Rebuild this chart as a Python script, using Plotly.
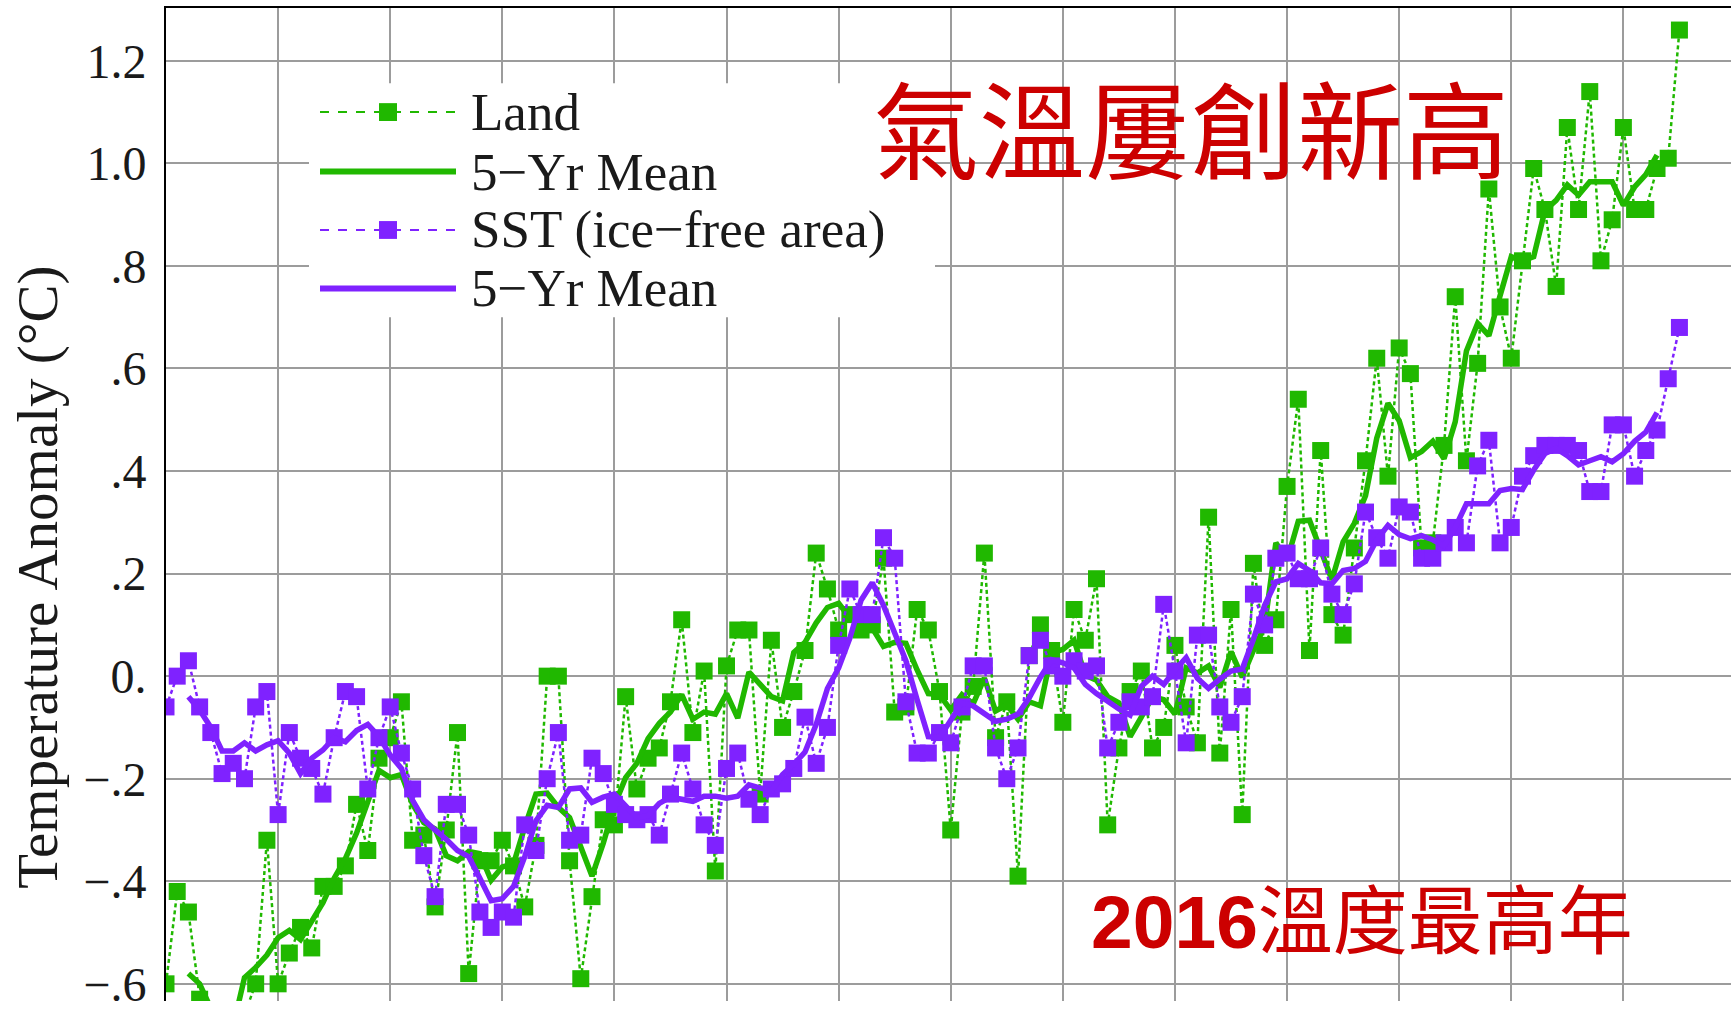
import plotly.graph_objects as go

# ---------------- data ----------------
years = list(range(1880, 2016))

land = [
    -0.60, -0.42, -0.46, -0.63, -0.79, -0.70, -0.66, -0.66, -0.60, -0.32,
    -0.60, -0.54, -0.49, -0.53, -0.41, -0.41, -0.37, -0.25, -0.34, -0.16,
    -0.12, -0.05, -0.32, -0.31, -0.45, -0.30, -0.11, -0.58, -0.36, -0.36,
    -0.32, -0.37, -0.45, -0.33, 0.00, 0.00, -0.36, -0.59, -0.43, -0.28,
    -0.29, -0.04, -0.22, -0.16, -0.14, -0.05, 0.11, -0.11, 0.01, -0.38,
    0.02, 0.09, 0.09, -0.23, 0.07, -0.10, -0.03, 0.05, 0.24, 0.17,
    0.09, 0.12, 0.09, 0.10, 0.23, -0.07, -0.06, 0.13, 0.09, -0.03,
    -0.30, -0.07, -0.02, 0.24, -0.12, -0.05, -0.39, 0.04, 0.10, 0.05,
    -0.09, 0.13, 0.07, 0.19, -0.29, -0.14, -0.03, 0.01, -0.14, -0.10,
    0.06, -0.06, -0.13, 0.31, -0.15, 0.13, -0.27, 0.22, 0.06, 0.11,
    0.37, 0.54, 0.05, 0.44, 0.12, 0.08, 0.25, 0.42, 0.62, 0.39,
    0.64, 0.59, 0.25, 0.26, 0.45, 0.74, 0.42, 0.61, 0.95, 0.72,
    0.62, 0.81, 0.99, 0.91, 0.76, 1.07, 0.91, 1.14, 0.81, 0.89,
    1.07, 0.91, 0.91, 0.99, 1.01, 1.26,
]

sst = [
    -0.06, 0.00, 0.03, -0.06, -0.11, -0.19, -0.17, -0.20, -0.06, -0.03,
    -0.27, -0.11, -0.16, -0.18, -0.23, -0.12, -0.03, -0.04, -0.22, -0.12,
    -0.06, -0.15, -0.22, -0.35, -0.43, -0.25, -0.25, -0.31, -0.46, -0.49,
    -0.46, -0.47, -0.29, -0.34, -0.20, -0.11, -0.32, -0.31, -0.16, -0.19,
    -0.25, -0.27, -0.28, -0.27, -0.31, -0.23, -0.15, -0.22, -0.29, -0.33,
    -0.18, -0.15, -0.24, -0.27, -0.22, -0.21, -0.18, -0.08, -0.17, -0.10,
    0.06, 0.17, 0.12, 0.12, 0.27, 0.23, -0.05, -0.15, -0.15, -0.11,
    -0.13, -0.06, 0.02, 0.02, -0.14, -0.20, -0.14, 0.04, 0.07, 0.02,
    0.00, 0.03, 0.01, 0.02, -0.14, -0.09, -0.05, -0.06, -0.04, 0.14,
    0.01, -0.13, 0.08, 0.08, -0.06, -0.09, -0.04, 0.16, 0.10, 0.23,
    0.24, 0.19, 0.19, 0.25, 0.16, 0.12, 0.18, 0.32, 0.27, 0.23,
    0.33, 0.32, 0.23, 0.23, 0.26, 0.29, 0.26, 0.41, 0.46, 0.26,
    0.29, 0.39, 0.43, 0.45, 0.45, 0.45, 0.44, 0.36, 0.36, 0.49,
    0.49, 0.39, 0.44, 0.48, 0.58, 0.68,
]

mean_years = list(range(1882, 2014))

land_5yr = [
    -0.580, -0.600, -0.648, -0.688, -0.682, -0.588, -0.568, -0.544,
    -0.510, -0.496, -0.514, -0.476, -0.442, -0.394, -0.356, -0.306, -0.248, -0.184,
    -0.198, -0.192, -0.250, -0.286, -0.298, -0.350, -0.360, -0.342, -0.346, -0.398,
    -0.372, -0.366, -0.294, -0.230, -0.228, -0.256, -0.276, -0.332, -0.390, -0.326,
    -0.252, -0.198, -0.170, -0.122, -0.092, -0.070, -0.036, -0.084, -0.070, -0.074,
    -0.034, -0.082, 0.008, -0.016, -0.040, -0.048, 0.046, 0.066, 0.104, 0.134,
    0.142, 0.114, 0.126, 0.094, 0.058, 0.066, 0.064, 0.012, -0.034, -0.036,
    -0.066, -0.036, -0.054, -0.004, -0.068, -0.056, -0.084, -0.050, -0.058, 0.046,
    0.052, 0.070, 0.002, -0.008, -0.040, -0.052, -0.118, -0.080, -0.040, -0.046,
    -0.074, 0.016, 0.006, 0.020, -0.022, 0.048, -0.002, 0.050, 0.098, 0.260,
    0.226, 0.302, 0.304, 0.246, 0.188, 0.262, 0.298, 0.352, 0.464, 0.532,
    0.498, 0.426, 0.438, 0.458, 0.424, 0.496, 0.634, 0.688, 0.664, 0.742,
    0.818, 0.810, 0.818, 0.908, 0.928, 0.958, 0.938, 0.964, 0.964, 0.964,
    0.918, 0.954, 0.978, 1.016,
]

sst_5yr = [
    -0.040, -0.066, -0.100, -0.146, -0.146, -0.130, -0.146, -0.134,
    -0.126, -0.150, -0.190, -0.160, -0.144, -0.120, -0.128, -0.106, -0.094, -0.118,
    -0.154, -0.180, -0.242, -0.280, -0.300, -0.318, -0.340, -0.352, -0.394, -0.438,
    -0.434, -0.410, -0.352, -0.282, -0.252, -0.256, -0.220, -0.218, -0.246, -0.236,
    -0.230, -0.252, -0.276, -0.272, -0.248, -0.236, -0.240, -0.244, -0.234, -0.234,
    -0.238, -0.234, -0.212, -0.218, -0.224, -0.192, -0.172, -0.148, -0.094, -0.024,
    0.016, 0.074, 0.148, 0.182, 0.138, 0.084, 0.030, -0.046, -0.118, -0.120,
    -0.086, -0.052, -0.058, -0.072, -0.088, -0.084, -0.074, -0.042, -0.002, 0.032,
    0.026, 0.016, -0.016, -0.034, -0.050, -0.064, -0.076, -0.020, 0.000, -0.016,
    0.012, 0.036, -0.004, -0.024, -0.006, 0.010, 0.014, 0.072, 0.138, 0.184,
    0.190, 0.220, 0.206, 0.182, 0.180, 0.206, 0.210, 0.224, 0.266, 0.294,
    0.276, 0.268, 0.274, 0.266, 0.254, 0.290, 0.336, 0.336, 0.336, 0.362,
    0.366, 0.364, 0.402, 0.434, 0.444, 0.430, 0.412, 0.420, 0.428, 0.418,
    0.434, 0.458, 0.476, 0.514,
]

y_tickvals = [-0.6, -0.4, -0.2, 0.0, 0.2, 0.4, 0.6, 0.8, 1.0, 1.2]
y_ticktext = ["\u2212.6", "\u2212.4", "\u2212.2", "0.", ".2", ".4", ".6", ".8", "1.0", "1.2"]

legend_labels = ["Land", "5\u2212Yr Mean", "SST (ice\u2212free area)", "5\u2212Yr Mean"]
y_title = "Temperature Anomaly (\u00b0C)"
headline = "氣溫屢創新高"
subline = "<b>2016</b>溫度最高年"

# ---------------- styling ----------------
GREEN = "#20b800"
PURPLE = "#7f22ff"
RED = "#cc0000"
TEXT = "#1a1a1a"
GRID = "#9c9c9c"
SERIF = "Liberation Serif, Times New Roman, serif"
CJK = "Noto Sans CJK TC, Noto Sans CJK SC, sans-serif"

fig = go.Figure()

fig.add_trace(go.Scatter(
    x=years, y=land, mode="lines+markers", name=legend_labels[0],
    line=dict(color=GREEN, width=2.5, dash="4px,3px"),
    marker=dict(symbol="square", size=17, color=GREEN),
))
fig.add_trace(go.Scatter(
    x=mean_years, y=land_5yr, mode="lines", name=legend_labels[1],
    line=dict(color=GREEN, width=5.5),
))
fig.add_trace(go.Scatter(
    x=years, y=sst, mode="lines+markers", name=legend_labels[2],
    line=dict(color=PURPLE, width=2.5, dash="4px,3px"),
    marker=dict(symbol="square", size=17, color=PURPLE),
))
fig.add_trace(go.Scatter(
    x=mean_years, y=sst_5yr, mode="lines", name=legend_labels[3],
    line=dict(color=PURPLE, width=5.5),
))

W, H = 1731, 1010
ML, MT = 166, 8
PW, PH = W - ML, H - MT

fig.update_layout(
    width=W, height=H,
    margin=dict(l=ML, r=0, t=MT, b=0, pad=0),
    paper_bgcolor="white", plot_bgcolor="white",
    showlegend=False,
)

fig.update_xaxes(
    range=[1880, 2019.6], tick0=1880, dtick=10,
    showgrid=True, gridcolor=GRID, gridwidth=1.5,
    showline=True, linecolor="black", linewidth=2, side="top",
    showticklabels=False, ticks="", zeroline=False,
)
fig.update_yaxes(
    range=[-0.6335, 1.303], tickvals=y_tickvals, ticktext=y_ticktext,
    showgrid=True, gridcolor=GRID, gridwidth=1.5,
    showline=True, linecolor="black", linewidth=2,
    zeroline=False, ticks="", ticklabelstandoff=8,
    ticklabeloverflow="allow",
    tickfont=dict(family=SERIF, size=48, color=TEXT),
)

# ---------------- hand-built legend (long line samples) ----------------
def px_x(x):
    return (x - ML) / PW

def px_y(y):
    return (H - y) / PH

shapes = [dict(type="rect", xref="paper", yref="paper",
               x0=px_x(309), x1=px_x(935), y0=px_y(320), y1=px_y(84),
               fillcolor="white", line=dict(width=0), layer="above")]
annotations = []
row_y = [113, 173, 232, 291]
styles = [(GREEN, True), (GREEN, False), (PURPLE, True), (PURPLE, False)]
for label, ry, (col, annual) in zip(legend_labels, row_y, styles):
    yy = px_y(ry)
    shapes.append(dict(type="line", xref="paper", yref="paper",
                       x0=px_x(320), x1=px_x(456), y0=yy, y1=yy, layer="above",
                       line=dict(color=col, width=2 if annual else 6,
                                 dash="dash" if annual else "solid")))
    if annual:
        shapes.append(dict(type="rect", xref="paper", yref="paper",
                           x0=px_x(379), x1=px_x(397), y0=px_y(ry + 9), y1=px_y(ry - 9),
                           fillcolor=col, line=dict(width=0), layer="above"))
    annotations.append(dict(xref="paper", yref="paper", x=px_x(469), y=yy,
                            xanchor="left", yanchor="middle", text=label, showarrow=False,
                            font=dict(family=SERIF, size=53, color=TEXT)))

annotations.append(dict(xref="paper", yref="paper", x=px_x(38), y=px_y(583),
                        xanchor="center", yanchor="middle", text=y_title, textangle=-90,
                        showarrow=False, font=dict(family=SERIF, size=57, color=TEXT)))
annotations.append(dict(xref="x", yref="y", x=1942.9, y=1.075, xanchor="left", yanchor="middle",
                        text=headline, showarrow=False,
                        font=dict(family=CJK, size=106, color=RED)))
annotations.append(dict(xref="x", yref="y", x=1962.3, y=-0.48, xanchor="left", yanchor="middle",
                        text=subline, showarrow=False,
                        font=dict(family="Liberation Sans, Arial, " + CJK, size=75, color=RED)))

fig.update_layout(shapes=shapes, annotations=annotations)

fig.write_html("out.html")
